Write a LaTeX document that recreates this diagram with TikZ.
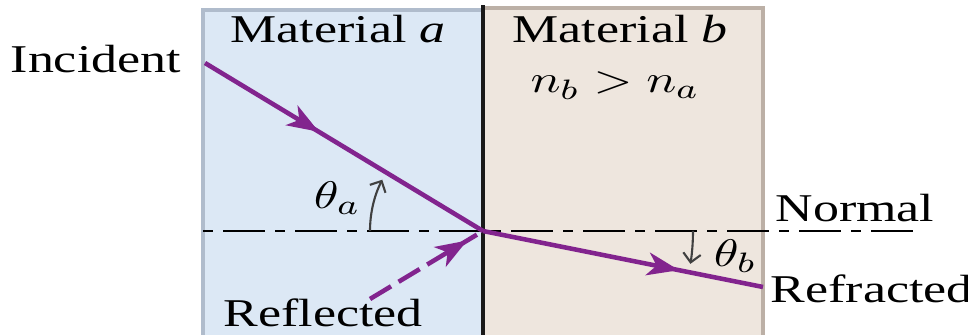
\documentclass[tikz,border=0pt]{standalone}
\usepackage{fontspec}
\setmainfont[FakeStretch=1.32]{Liberation Serif}
\usetikzlibrary{arrows.meta,decorations.markings}
\definecolor{Craio}{RGB}{130,36,142}
\definecolor{Cazul}{RGB}{220,232,245}
\definecolor{Cazulb}{RGB}{176,188,204}
\definecolor{Cbege}{RGB}{238,230,222}
\definecolor{Cbegeb}{RGB}{188,176,166}
\newcommand{\wide}[1]{\scalebox{1.3}[1]{#1}}

\begin{document}
\begin{tikzpicture}[x=0.1mm, y=0.1mm,
      lbl/.style={font=\fontsize{11.2}{13}\selectfont, inner sep=0pt,
                  anchor=base west},
      mlbl/.style={font=\fontsize{11.2}{13}\selectfont, inner sep=0pt},
      ray/.style={draw=Craio, line width=1.3pt},
      midarrow/.style={postaction={decorate}, decoration={markings,
          mark=at position #1 with
          {\arrow[Craio]{Stealth[length=9pt,width=6.5pt,inset=2.5pt]}}}},
      angarrow/.style={draw=black!75, line width=0.6pt,
                       -{Straight Barb[length=2.5pt,width=5pt]}}]
    \useasboundingbox (0,0) rectangle (968,335);
    % Meios
    \draw[Cazulb, fill=Cazul, line width=1.2pt] (203,-5) rectangle (483,325);
    \draw[Cbegeb, fill=Cbege, line width=1.2pt] (483,-5) rectangle (763,327);
    \draw[black!90, line width=1.1pt] (483,-5) -- (483,330);
    % Pontos
    \coordinate (O) at (483,104);
    \coordinate (inc) at (205,272);
    \coordinate (refr) at (763,48);
    \coordinate (refl) at (370,36);
    \coordinate (nL) at (203,104);
    \coordinate (nR) at (923,104);
    % Normal
    \draw[black, line width=0.55pt,
          dash pattern=on 2.85pt off 2.85pt on 11.95pt off 2.85pt] (nL) -- (nR);
    % Raios
    \draw[ray, midarrow=0.41] (inc) -- (O);
    \draw[ray, midarrow=0.70] (O) -- (refr);
    \draw[ray, dash pattern=on 7pt off 2.5pt, midarrow=0.86] (refl) -- (O);
    % Angulos
    \draw[angarrow] ([shift={(180:113)}]O) arc[start angle=180, end angle=153, radius=113];
    \draw[angarrow] ([shift={(0:210)}]O) arc[start angle=0, end angle=-9, radius=210];
    % Rotulos
    \node[lbl] (tInc) at (10,262) {Incident};
    \node[lbl] (tMa) at (230,292) {Material \textit{a}};
    \node[lbl] (tMb) at (512,292) {Material \textit{b}};
    \node[mlbl, anchor=base] (tN) at (615,242) {\wide{$n_b > n_a$}};
    \node[mlbl] (tTa) at (337,137) {\wide{$\theta_a$}};
    \node[mlbl] (tTb) at (735,79) {\wide{$\theta_b$}};
    \node[lbl] (tNorm) at (775,113) {Normal};
    \node[lbl] (tRefr) at (770,32) {Refracted};
    \node[lbl] (tRefl) at (223,8) {Reflected};
\end{tikzpicture}
\end{document}
